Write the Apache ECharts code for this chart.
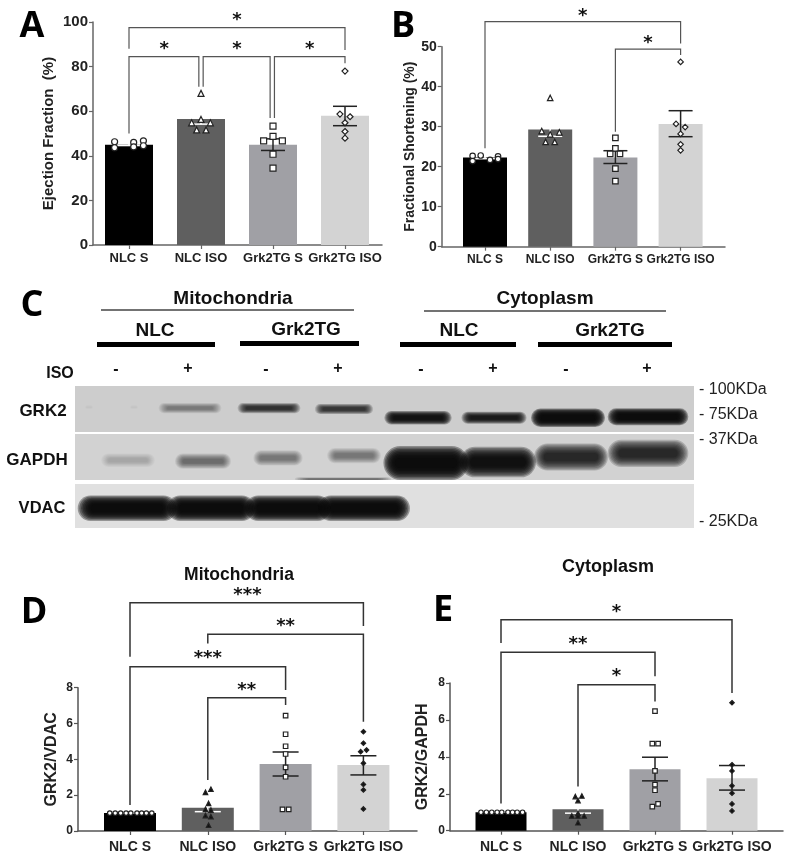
<!DOCTYPE html>
<html>
<head>
<meta charset="utf-8">
<style>
  html, body { margin: 0; padding: 0; background: #fff; }
  #main { width: 793px; height: 860px; }
</style>
<script src="https://cdn.jsdelivr.net/npm/echarts@6/dist/echarts.min.js"></script>
</head>
<body>
<div id="main"></div>
<script>
const categories = ['NLC S', 'NLC ISO', 'Grk2TG S', 'Grk2TG ISO'];
const barColors = ['#000000', '#5f5f5f', '#a0a0a5', '#d3d3d3'];
const errColors = ['#ffffff', '#ffffff', '#222222', '#222222'];
const symbols = ['circle', 'triangle', 'rect', 'diamond'];

// panel A
const aValues = [45, 56.5, 45, 58];
const aErrLow = [44.6, 54.2, 42.4, 53.5];
const aErrHigh = [45.6, 58.8, 47.6, 62.2];
const aPoints = [
  [[-0.2, 46.3], [-0.2, 43.6], [0.065, 46], [0.065, 44], [0.2, 46.7], [0.2, 44.5]],
  [[0, 68], [0, 56.3], [-0.13, 54.8], [0.13, 54.8], [-0.06, 51.6], [0.07, 51.6]],
  [[0, 53.3], [0, 48.7], [-0.13, 46.7], [0.13, 46.7], [0, 40.7], [0, 34.5]],
  [[0, 78], [-0.07, 58.7], [0.07, 57.5], [0, 54.8], [0, 50.9], [0, 47.9]]
];
const aBrackets = [[0, 88, 3, 87.5, 97.5], [0, 50, 0.97, 71, 84.5], [1.03, 71, 1.96, 57, 84.5], [2.02, 57, 3, 81.5, 84.5]];
const aStars = [[1.5, 102, '*'], [0.49, 89.2, '*'], [1.5, 89.2, '*'], [2.51, 89.2, '*']];

// panel B
const bValues = [22.3, 29.3, 22.3, 30.7];
const bErrLow = [22, 27.6, 20.8, 27.5];
const bErrHigh = [22.6, 31, 24, 34];
const bPoints = [
  [[-0.19, 22.7], [-0.066, 22.8], [0.077, 21.7], [0.2, 22.6], [0.2, 21.9], [-0.19, 21.4]],
  [[0, 37.2], [-0.13, 28.9], [0.14, 28.6], [0, 28.1], [-0.07, 26.2], [0.07, 26.2]],
  [[0, 27.2], [0, 24.6], [-0.08, 23.2], [0.07, 23.2], [0, 19.5], [0, 16.4]],
  [[0, 46.2], [-0.07, 30.7], [0.07, 29.9], [0, 28.2], [0, 25.6], [0, 24.1]]
];
const bBrackets = [[0, 24.6, 3, 50.8, 56.25], [2, 28.75, 3, 47.9, 49.4]];
const bStars = [[1.5, 58.3, '*'], [2.5, 51.7, '*']];

// panel D
const dValues = [1, 1.3, 3.74, 3.68];
const dErrLow = [1, 1.08, 3.07, 3.13];
const dErrHigh = [1, 1.55, 4.41, 4.2];
const dPoints = [
  [[-0.26, 1], [-0.19, 1], [-0.12, 1], [-0.05, 1], [0.01, 1], [0.09, 1], [0.15, 1], [0.21, 1], [0.28, 1]],
  [[0.04, 2.33], [-0.03, 2.16], [0.01, 1.54], [-0.03, 1.21], [0.04, 1.17], [-0.03, 0.86], [0.04, 0.8], [0.01, 0.32]],
  [[0, 6.44], [0, 5.4], [0, 4.73], [0, 4.3], [0, 3.55], [0, 3.03], [-0.04, 1.21], [0.04, 1.21]],
  [[0, 5.54], [0, 4.9], [-0.035, 4.43], [0.04, 4.52], [0, 3.78], [0, 2.6], [0, 2.29], [0, 1.23]]
];
const dBrackets = [[0, 9.73, 3, 11.44, 12.74], [1, 10.47, 3, 6.1, 10.98], [0, 1.45, 2, 7.87, 9.17], [1, 2.85, 2, 7.03, 7.44]];
const dStars = [[1.51, 13.3, '***'], [2, 11.6, '**'], [1, 9.8, '***'], [1.5, 8, '**']];

// panel E
const eValues = [1, 1.16, 3.33, 2.84];
const eErrLow = [1, 0.95, 2.7, 2.2];
const eErrHigh = [1, 1.37, 3.98, 3.53];
const ePoints = [
  [[-0.26, 1], [-0.19, 1], [-0.12, 1], [-0.05, 1], [0.01, 1], [0.09, 1], [0.15, 1], [0.21, 1], [0.28, 1]],
  [[0.05, 1.88], [-0.035, 1.85], [0, 1.63], [0, 0.94], [-0.08, 0.8], [0.08, 0.8], [0, 0.8], [0, 0.43]],
  [[0, 6.48], [-0.035, 4.72], [0.04, 4.72], [0, 3.24], [0, 2.5], [0, 2.19], [0.04, 1.45], [-0.035, 1.3]],
  [[0, 6.93], [0, 3.57], [0, 3.24], [0, 2.43], [0, 2.03], [0, 1.45], [0, 1.07]]
];
const eBrackets = [[0, 10.17, 3, 7.46, 11.42], [0, 1.48, 2, 8.36, 9.67], [1, 2.39, 2, 7, 7.91]];
const eStars = [[1.5, 12, '*'], [1, 10.24, '**'], [1.5, 8.5, '*']];

// western blot: lane centre along the strip, band height position, darkness
const grkLanes = [14, 59, 115, 194, 269, 343, 419, 493, 573];
const grkLevels = [0.46, 0.46, 0.48, 0.48, 0.5, 0.69, 0.69, 0.69, 0.67];
const grkDark = [0.04, 0.05, 0.4, 0.78, 0.76, 0.94, 0.9, 0.98, 0.98];
const gapLanes = [53, 128, 203, 279, 351, 423, 496, 573, 268];
const gapLevels = [0.57, 0.59, 0.52, 0.47, 0.63, 0.61, 0.5, 0.42, 0.98];
const gapDark = [0.2, 0.5, 0.42, 0.42, 0.98, 0.95, 0.85, 0.85, 0.5];
const vdacLanes = [52, 136, 213, 289];
const vdacLevels = [0.55, 0.55, 0.55, 0.55];
const vdacDark = [0.98, 0.98, 0.98, 0.98];

const sans = '"Liberation Sans", Arial, sans-serif';

function bracketSeries(g, rows, color, lw) {
  return {
    type: 'custom', xAxisIndex: g, yAxisIndex: g, coordinateSystem: 'cartesian2d', clip: false, silent: true,
    data: rows, z: 4,
    renderItem: (p, api) => {
      const a = api.coord([api.value(0), api.value(1)]);
      const b = api.coord([api.value(0), api.value(4)]);
      const c = api.coord([api.value(2), api.value(4)]);
      const d = api.coord([api.value(2), api.value(3)]);
      return { type: 'polyline', shape: { points: [a, b, c, d] }, style: { fill: 'none', stroke: color, lineWidth: lw } };
    }
  };
}

function starSeries(g, rows) {
  return {
    type: 'custom', xAxisIndex: g, yAxisIndex: g, coordinateSystem: 'cartesian2d', clip: false, silent: true,
    data: rows, z: 5,
    encode: { x: 0, y: 1 },
    renderItem: (p, api) => {
      const pt = api.coord([api.value(0), api.value(1)]);
      return {
        type: 'text',
        style: {
          x: pt[0], y: pt[1] + 3, text: rows[p.dataIndex][2], fill: '#111',
          font: 'bold 18px "DejaVu Sans"', align: 'center', verticalAlign: 'middle'
        }
      };
    }
  };
}

function errorSeries(g, low, high, capW, lw) {
  return {
    type: 'custom', xAxisIndex: g, yAxisIndex: g, coordinateSystem: 'cartesian2d', clip: false, silent: true,
    data: low.map((v, i) => [i, v, high[i]]), z: 3,
    renderItem: (p, api) => {
      const x = api.value(0);
      const a = api.coord([x, api.value(1)]);
      const b = api.coord([x, api.value(2)]);
      const style = { stroke: errColors[p.dataIndex], lineWidth: lw };
      return {
        type: 'group',
        children: [
          { type: 'line', shape: { x1: a[0], y1: a[1], x2: b[0], y2: b[1] }, style },
          { type: 'line', shape: { x1: a[0] - capW, y1: a[1], x2: a[0] + capW, y2: a[1] }, style },
          { type: 'line', shape: { x1: b[0] - capW, y1: b[1], x2: b[0] + capW, y2: b[1] }, style }
        ]
      };
    }
  };
}

// one blot strip: a band is a stack of faint pills so its edge fades out
function bandSeries(g, lanes, levels, dark, bw, bh) {
  const layers = 9;
  return {
    type: 'custom', xAxisIndex: g, yAxisIndex: g, coordinateSystem: 'cartesian2d', clip: true, silent: true,
    data: lanes.map((x, i) => [x, levels[i], dark[i]]),
    renderItem: (p, api) => {
      const c = api.coord([api.value(0), api.value(1)]);
      const w = bw[p.dataIndex] || bw[0];
      const h = bh[p.dataIndex] || bh[0];
      const a = 1 - Math.pow(1 - api.value(2), 1 / layers);
      const children = [];
      for (let k = 0; k < layers; k++) {
        const t = k / (layers - 1);
        const lw = w * (1.12 - 0.3 * t);
        const lh = h * (1.7 - 1.2 * t);
        children.push({
          type: 'rect',
          shape: { x: c[0] - lw / 2, y: c[1] - lh / 2, width: lw, height: lh, r: lh / 2 },
          style: { fill: 'rgba(8,8,8,' + a + ')' }
        });
      }
      return { type: 'group', children };
    }
  };
}

const panels = [
  { left: 93, right: 382, top: 22, bottom: 245, first: 129, step: 72, barW: 48, ymax: 100, ystep: 20, yName: 'Ejection Fraction  (%)', nameGap: 37, nameSize: 15, tickSize: 15, xSize: 13, xMargin: 7, capW: 12, sym: 6, values: aValues, low: aErrLow, high: aErrHigh, pts: aPoints, brackets: aBrackets, stars: aStars, lineC: '#666', brLw: 1.2, solid: false },
  { left: 441.7, right: 725, top: 46.7, bottom: 246.7, first: 485, step: 65.2, barW: 44, ymax: 50, ystep: 10, yName: 'Fractional Shortening (%)', nameGap: 23, nameSize: 14, tickSize: 14, xSize: 12, xMargin: 7, capW: 12, sym: 5.5, values: bValues, low: bErrLow, high: bErrHigh, pts: bPoints, brackets: bBrackets, stars: bStars, lineC: '#666', brLw: 1.2, solid: false },
  { left: 78, right: 417, top: 687.7, bottom: 831, first: 130, step: 77.8, barW: 52, ymax: 8, ystep: 2, yName: 'GRK2/VDAC', nameGap: 18, nameSize: 16, tickSize: 12, xSize: 14, xMargin: 9, capW: 13, sym: 4.5, values: dValues, low: dErrLow, high: dErrHigh, pts: dPoints, brackets: dBrackets, stars: dStars, lineC: '#555', brLw: 1.5, solid: true },
  { left: 450, right: 783, top: 683, bottom: 830.7, first: 501, step: 77, barW: 51, ymax: 8, ystep: 2, yName: 'GRK2/GAPDH', nameGap: 19, nameSize: 16, tickSize: 12, xSize: 14, xMargin: 9, capW: 13, sym: 4.5, values: eValues, low: eErrLow, high: eErrHigh, pts: ePoints, brackets: eBrackets, stars: eStars, lineC: '#555', brLw: 1.5, solid: true }
];

const grid = [], xAxis = [], yAxis = [], series = [];

panels.forEach((p, g) => {
  grid.push({ left: p.left, top: p.top, width: p.right - p.left, height: p.bottom - p.top });
  xAxis.push({
    type: 'value', gridIndex: g,
    min: (p.left - p.first) / p.step, max: (p.right - p.first) / p.step,
    splitLine: { show: false },
    axisLine: { show: true, lineStyle: { color: p.lineC, width: 1.5 } },
    axisTick: { show: true, length: 4, customValues: [0, 1, 2, 3], lineStyle: { color: p.lineC, width: 1.2 } },
    axisLabel: {
      customValues: [0, 1, 2, 3], formatter: v => categories[v], margin: p.xMargin,
      fontFamily: sans, fontWeight: 'bold', fontSize: p.xSize, color: '#222'
    }
  });
  yAxis.push({
    type: 'value', gridIndex: g, min: 0, max: p.ymax, interval: p.ystep,
    name: p.yName, nameLocation: 'middle', nameGap: p.nameGap,
    nameTextStyle: { fontFamily: sans, fontWeight: 'bold', fontSize: p.nameSize, color: '#222' },
    splitLine: { show: false },
    axisLine: { show: true, onZero: false, lineStyle: { color: p.lineC, width: 1.5 } },
    axisTick: { show: true, length: 4, lineStyle: { color: p.lineC, width: 1.2 } },
    axisLabel: { margin: 5, fontFamily: sans, fontWeight: 'bold', fontSize: p.tickSize, color: '#222' }
  });
  series.push({
    type: 'bar', xAxisIndex: g, yAxisIndex: g, barWidth: p.barW, silent: true, z: 2,
    data: p.values.map((v, i) => ({ value: [i, v], itemStyle: { color: barColors[i] } }))
  });
  series.push(errorSeries(g, p.low, p.high, p.capW, 1.5));
  p.pts.forEach((rows, i) => {
    const black = p.solid && (i === 1 || i === 3);
    series.push({
      type: 'scatter', xAxisIndex: g, yAxisIndex: g, silent: true, z: 6,
      symbol: symbols[i], symbolSize: p.sym,
      itemStyle: { color: black ? '#111' : '#fff', borderColor: '#222', borderWidth: 1.2, opacity: 1 },
      data: rows.map(r => [i + r[0], r[1]])
    });
  });
  series.push(bracketSeries(g, p.brackets, p.solid ? '#333' : '#555', p.brLw));
  series.push(starSeries(g, p.stars));
});

// blot strips take grids 4, 5, 6
const strips = [
  { top: 386, height: 46, color: '#cdcdcd' },
  { top: 434, height: 46, color: '#d2d2d2' },
  { top: 484, height: 44, color: '#e0e0e0' }
];
strips.forEach((s, k) => {
  const g = 4 + k;
  grid.push({ show: true, left: 75, top: s.top, width: 619, height: s.height, backgroundColor: s.color, borderWidth: 0 });
  xAxis.push({ type: 'value', gridIndex: g, min: 0, max: 619, show: false });
  yAxis.push({ type: 'value', gridIndex: g, min: 0, max: 1, inverse: true, show: false });
});
series.push(bandSeries(4, grkLanes, grkLevels, grkDark, [8, 8, 56, 56, 52, 60, 58, 66, 72], [3, 3, 6, 6, 6, 8, 7, 11, 10]));
series.push(bandSeries(5, gapLanes, gapLevels, gapDark, [48, 50, 44, 48, 76, 68, 66, 72, 86], [8, 9, 9, 9, 20, 18, 16, 16, 2]));
series.push(bandSeries(6, vdacLanes, vdacLevels, vdacDark, [88, 78, 76, 82], [15, 15, 15, 15]));

function label(text, x, y, size, extra) {
  return {
    type: 'text', x, y, silent: true,
    style: Object.assign({
      text, font: 'bold ' + size + 'px ' + sans, fill: '#111', align: 'center', verticalAlign: 'middle'
    }, extra || {})
  };
}
function rule(x1, x2, y, h, color) {
  return { type: 'rect', silent: true, shape: { x: x1, y: y - h / 2, width: x2 - x1, height: h }, style: { fill: color } };
}
const letterFont = 'bold 36px "Open Sans"';
const kdaFont = '16px ' + sans;

const graphicElements = [
  label('A', 32, 27, 36, { font: letterFont, fill: '#000' }),
  label('B', 403, 27, 36, { font: letterFont, fill: '#000' }),
  label('C', 32, 306, 36, { font: letterFont, fill: '#000' }),
  label('D', 34, 613, 36, { font: letterFont, fill: '#000' }),
  label('E', 443, 611, 36, { font: letterFont, fill: '#000' }),
  label('Mitochondria', 239, 575, 17.5),
  label('Cytoplasm', 608, 567, 18),
  label('Mitochondria', 233, 299, 19),
  label('Cytoplasm', 545, 299, 19),
  rule(101, 354, 310, 1.5, '#444'),
  rule(424, 666, 311, 1.5, '#444'),
  label('NLC', 155, 331, 19),
  label('Grk2TG', 306, 330, 19),
  label('NLC', 459, 331, 19),
  label('Grk2TG', 610, 331, 19),
  rule(97, 215, 344.5, 5, '#000'),
  rule(240, 359, 343.5, 5, '#000'),
  rule(400, 516, 344.5, 5, '#000'),
  rule(538, 672, 344.5, 5, '#000'),
  label('ISO', 60, 374, 16),
  label('-', 116, 370, 16),
  label('+', 188, 369, 16),
  label('-', 266, 370, 16),
  label('+', 338, 369, 16),
  label('-', 421, 370, 16),
  label('+', 493, 369, 16),
  label('-', 566, 370, 16),
  label('+', 647, 369, 16),
  label('GRK2', 43, 411, 17),
  label('GAPDH', 37, 460, 17),
  label('VDAC', 42, 508, 16.5),
  label('- 100KDa', 699, 390, 16, { align: 'left', font: kdaFont, fill: '#222' }),
  label('- 75KDa', 699, 415, 16, { align: 'left', font: kdaFont, fill: '#222' }),
  label('- 37KDa', 699, 440, 16, { align: 'left', font: kdaFont, fill: '#222' }),
  label('- 25KDa', 699, 522, 16, { align: 'left', font: kdaFont, fill: '#222' })
];

const chart = echarts.init(document.getElementById('main'));
chart.setOption({
  animation: false,
  backgroundColor: '#fff',
  textStyle: { fontFamily: sans },
  grid, xAxis, yAxis, series,
  graphic: { elements: graphicElements }
});
</script>
</body>
</html>
